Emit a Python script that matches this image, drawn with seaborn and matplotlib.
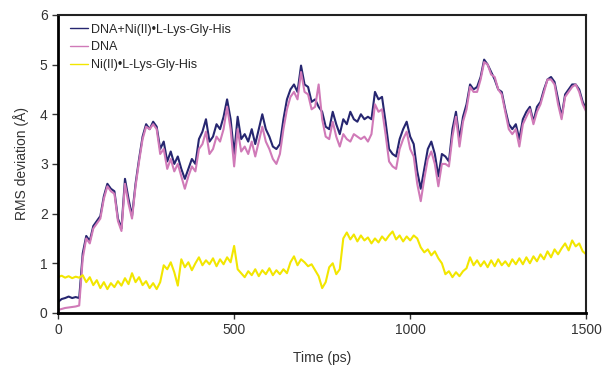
import numpy as np
import pandas as pd
import seaborn as sns
import matplotlib
matplotlib.use("Agg")
import matplotlib.pyplot as plt

# time axis, one reading every 10 ps
time_ps = list(range(0, 1510, 10))

# DNA + Ni(II)-peptide complex
rms_complex = [
    0.22, 0.28, 0.30, 0.33, 0.30, 0.32, 0.30, 1.20, 1.55, 1.45,
    1.75, 1.85, 1.95, 2.35, 2.60, 2.50, 2.45, 1.90, 1.70, 2.70,
    2.30, 1.95, 2.60, 3.10, 3.55, 3.80, 3.70, 3.85, 3.75, 3.30,
    3.45, 3.05, 3.25, 3.00, 3.15, 2.90, 2.70, 2.90, 3.10, 3.00,
    3.50, 3.65, 3.90, 3.45, 3.55, 3.80, 3.70, 3.95, 4.30, 3.90,
    3.20, 3.95, 3.50, 3.60, 3.45, 3.70, 3.40, 3.70, 4.00, 3.70,
    3.55, 3.35, 3.30, 3.40, 3.90, 4.30, 4.50, 4.60, 4.45, 4.98,
    4.60, 4.55, 4.25, 4.30, 4.15, 4.05, 3.75, 3.70, 4.05, 3.80,
    3.60, 3.90, 3.80, 4.05, 3.90, 3.85, 4.00, 3.90, 3.95, 3.90,
    4.45, 4.30, 4.35, 3.85, 3.30, 3.20, 3.15, 3.50, 3.70, 3.85,
    3.55, 3.40, 2.85, 2.50, 2.90, 3.30, 3.45, 3.20, 2.75, 3.20,
    3.15, 3.05, 3.70, 4.05, 3.50, 3.95, 4.20, 4.60, 4.50, 4.55,
    4.75, 5.10, 5.00, 4.85, 4.70, 4.50, 4.45, 4.10, 3.80, 3.70,
    3.80, 3.50, 3.90, 4.05, 4.15, 3.85, 4.15, 4.25, 4.50, 4.70,
    4.75, 4.65, 4.30, 3.95, 4.40, 4.50, 4.60, 4.60, 4.50, 4.25,
    4.10,
]

# free DNA
rms_dna = [
    0.06, 0.08, 0.10, 0.11, 0.12, 0.13, 0.15, 1.10, 1.50, 1.40,
    1.70, 1.80, 1.90, 2.30, 2.55, 2.45, 2.40, 1.85, 1.65, 2.60,
    2.20, 1.90, 2.55, 3.05, 3.50, 3.75, 3.70, 3.80, 3.70, 3.20,
    3.30, 2.90, 3.10, 2.85, 3.00, 2.75, 2.50, 2.75, 2.95, 2.85,
    3.30, 3.40, 3.65, 3.20, 3.30, 3.55, 3.45, 3.70, 4.15, 3.70,
    2.95, 3.70, 3.25, 3.35, 3.20, 3.45, 3.15, 3.45, 3.75, 3.45,
    3.30, 3.10, 3.00, 3.20, 3.70, 4.10, 4.35, 4.45, 4.30, 4.85,
    4.45, 4.40, 4.10, 4.15, 4.60, 3.90, 3.55, 3.50, 3.85, 3.55,
    3.35, 3.60, 3.50, 3.45, 3.60, 3.55, 3.50, 3.55, 3.45, 3.60,
    4.20, 4.05, 4.10, 3.60, 3.05, 2.95, 2.90, 3.30, 3.50, 3.65,
    3.30, 3.15, 2.60, 2.25, 2.70, 3.10, 3.25, 3.00, 2.55, 3.00,
    3.00, 2.95, 3.55, 3.95, 3.35, 3.85, 4.10, 4.55, 4.45, 4.45,
    4.70, 5.05, 5.00, 4.80, 4.75, 4.50, 4.40, 4.05, 3.70, 3.60,
    3.70, 3.35, 3.80, 3.95, 4.10, 3.80, 4.05, 4.20, 4.45, 4.70,
    4.70, 4.60, 4.20, 3.90, 4.35, 4.45, 4.55, 4.60, 4.45, 4.20,
    4.05,
]

# Ni(II)-peptide alone
rms_peptide = [
    0.72, 0.75, 0.71, 0.74, 0.70, 0.73, 0.71, 0.76, 0.62, 0.72,
    0.56, 0.66, 0.50, 0.62, 0.48, 0.60, 0.52, 0.64, 0.55, 0.70,
    0.58, 0.80, 0.62, 0.72, 0.56, 0.64, 0.50, 0.60, 0.48, 0.62,
    0.96, 0.88, 1.02, 0.82, 0.55, 1.08, 0.92, 1.02, 0.86, 1.00,
    1.12, 0.96, 1.06, 0.98, 1.10, 0.94, 1.08, 0.98, 1.12, 1.02,
    1.35, 0.88, 0.80, 0.72, 0.84, 0.76, 0.88, 0.74, 0.86, 0.78,
    0.90, 0.76, 0.86, 0.78, 0.88, 0.80, 1.02, 1.14, 0.96, 1.08,
    1.02, 0.94, 0.98, 0.86, 0.74, 0.50, 0.62, 0.92, 1.00, 0.78,
    0.88, 1.50, 1.62, 1.48, 1.58, 1.44, 1.56, 1.46, 1.52, 1.40,
    1.50, 1.42, 1.54, 1.46, 1.56, 1.64, 1.48, 1.56, 1.44, 1.54,
    1.46, 1.56, 1.50, 1.32, 1.22, 1.28, 1.16, 1.24, 1.10, 1.00,
    0.78, 0.84, 0.72, 0.82, 0.74, 0.84, 0.90, 1.12, 0.96, 1.06,
    0.94, 1.04, 0.92, 1.06, 0.94, 1.08, 0.96, 1.04, 0.94, 1.08,
    0.98, 1.10, 0.98, 1.12, 1.00, 1.14, 1.04, 1.18, 1.08, 1.24,
    1.12, 1.28, 1.18, 1.30, 1.40, 1.26, 1.46, 1.34, 1.40, 1.24,
    1.18,
]

labels = ["DNA+Ni(II)\u2022L-Lys-Gly-His", "DNA", "Ni(II)\u2022L-Lys-Gly-His"]
colors = ["#262670", "#d07ab8", "#f2e600"]

sns.set_style("white")
plt.rcParams["font.family"] = ["Liberation Sans", "DejaVu Sans"]

fig = plt.figure(figsize=(6.05, 3.73), dpi=100)
ax = fig.add_axes([0.096, 0.161, 0.873, 0.799])

for series, lab, col in zip([rms_complex, rms_dna, rms_peptide], labels, colors):
    sns.lineplot(x=time_ps, y=series, ax=ax, color=col, label=lab, linewidth=1.5)

ax.set_xlim(0, 1500)
ax.set_ylim(0, 6)
ax.set_xticks([0, 500, 1000, 1500])
ax.set_yticks([0, 1, 2, 3, 4, 5, 6])
ax.tick_params(axis="both", direction="out", length=4, width=1, colors="#333333",
               labelsize=10, left=True, bottom=True)
for side in ["left", "bottom"]:
    ax.spines[side].set_linewidth(2)
    ax.spines[side].set_color("black")
for side in ["top", "right"]:
    ax.spines[side].set_linewidth(1.5)
    ax.spines[side].set_color("#222222")

ax.set_xlabel("Time (ps)", fontsize=10, color="#333333", labelpad=10)
ax.set_ylabel("RMS deviation (\u00c5)", fontsize=10, color="#333333", labelpad=8)

leg = ax.legend(loc="upper left", bbox_to_anchor=(0.013, 0.987), borderaxespad=0,
                frameon=False, fontsize=9, handlelength=1.45, handletextpad=0.2,
                labelspacing=0.45)
for line in leg.get_lines():
    line.set_linewidth(1)

fig.savefig("out.png", dpi=100)
